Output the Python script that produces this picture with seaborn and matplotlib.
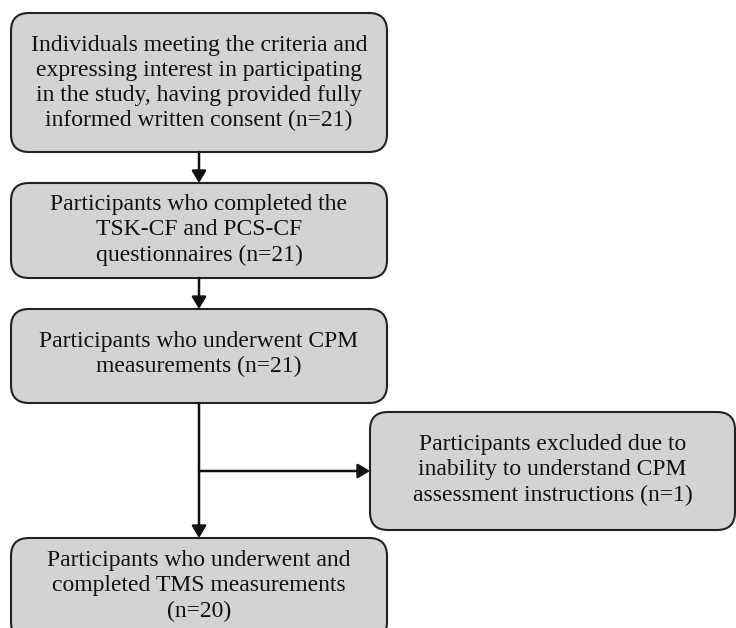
import matplotlib
matplotlib.use("Agg")
import matplotlib.pyplot as plt
from matplotlib.patches import FancyBboxPatch, FancyArrowPatch
import seaborn as sns

sns.set_style("white")
plt.rcParams['font.family'] = ['Liberation Serif', 'DejaVu Serif']

# ---- data ----
stage_text = [
    "Individuals meeting the criteria and\nexpressing interest in participating\nin the study, having provided fully\ninformed written consent",
    "Participants who completed the\nTSK-CF and PCS-CF\nquestionnaires",
    "Participants who underwent CPM\nmeasurements",
    "Participants excluded due to\ninability to understand CPM\nassessment instructions",
    "Participants who underwent and\ncompleted TMS measurements\n",
]
stage_n = [21, 21, 21, 1, 20]

# ---- layout (pixel coordinates: x0, y0, x1, y1) ----
boxes = [
    (11, 13, 387, 152),
    (11, 183, 387, 278),
    (11, 309, 387, 403),
    (370, 412, 735, 530),
    (11, 538, 387, 640),
]
text_y = [83, 230, 354, 470, 586]

fig = plt.figure(figsize=(7.36, 6.28), dpi=100)
ax = fig.add_axes([0, 0, 1, 1])
ax.set_xlim(0, 736)
ax.set_ylim(628, 0)
ax.axis("off")

fill = "#d3d3d3"
edge = "#222222"

for i, (b, t, n) in enumerate(zip(boxes, stage_text, stage_n)):
    x0, y0, x1, y1 = b
    r = 18
    p = FancyBboxPatch((x0 + r, y0 + r), (x1 - x0) - 2 * r, (y1 - y0) - 2 * r,
                       boxstyle=f"round,pad={r},rounding_size={r}",
                       fc=fill, ec=edge, lw=1.5, zorder=2)
    ax.add_patch(p)
    if t.endswith("\n"):
        label = t + f"(n={n})"
    else:
        label = t + f" (n={n})"
    cx = (x0 + x1) / 2
    ax.text(cx, text_y[i], label, ha="center", va="center", fontsize=17,
            linespacing=1.25, color="#111111", zorder=3)

cx = 199

def arrow(p0, p1):
    a = FancyArrowPatch(p0, p1, arrowstyle="-|>,head_length=4,head_width=2.4",
                        mutation_scale=1.8, lw=1.8, color="#111111",
                        shrinkA=0, shrinkB=0, zorder=4)
    ax.add_patch(a)

arrow((cx, 152), (cx, 183))
arrow((cx, 278), (cx, 309))
arrow((cx, 403), (cx, 538))
arrow((cx, 471), (370, 471))

fig.savefig("out.png", dpi=100)
